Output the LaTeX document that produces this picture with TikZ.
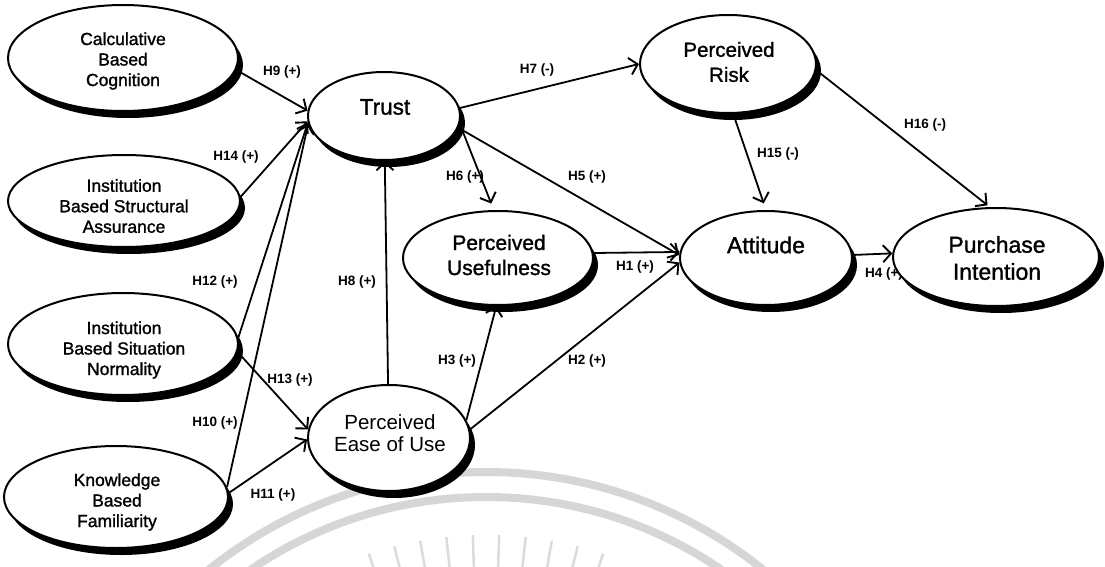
\documentclass[tikz,border=0pt]{standalone}
\usepackage{fontspec}
\setmainfont{Liberation Sans}
\newfontfamily\heavyfont{Liberation Sans}[FakeBold=1.3]
\usetikzlibrary{shapes.geometric,shadows,arrows.meta}
\pgfdeclarelayer{background}
\pgfsetlayers{background,main}

\tikzset{
  construct/.style={ellipse, draw=black, line width=2pt, fill=white, inner sep=0pt,
    drop shadow={shadow xshift=5pt, shadow yshift=-7pt, fill=black, opacity=1}},
  smalltxt/.style={font=\heavyfont\fontsize{17.5}{20.5}\selectfont, align=center, inner sep=0pt},
  midtxt/.style={font=\heavyfont\fontsize{21}{25}\selectfont, align=center, inner sep=0pt},
  largetxt/.style={font=\heavyfont\fontsize{23}{27}\selectfont, align=center, inner sep=0pt},
  link/.style={line width=1.8pt, -{Straight Barb[length=8pt,width=17pt,line width=1.9pt]}},
  hyp/.style={font=\bfseries\fontsize{13.5}{15}\selectfont, inner sep=0pt},
  seal/.style={draw=black!16, line width=8pt},
  ray/.style={draw=black!14, line width=2.5pt}
}

\begin{document}
\begin{tikzpicture}[x=1pt,y=-1pt]
\useasboundingbox (0,0) rectangle (1105,567);

% paper and a faint seal behind the model
\begin{pgfonlayer}{background}
  \fill[white] (0,0) rectangle (1105,567);
  \begin{scope}
    \clip (0,0) rectangle (1105,567);
    \coordinate (sealc) at (486,914);
    \draw[seal] (sealc) circle[radius=442pt];
    \draw[seal] (sealc) circle[radius=417pt];
    \foreach \a in {72,76,...,108}
      \draw[ray] (sealc) ++(\a:345pt) -- ++(\a:34pt);
  \end{scope}
\end{pgfonlayer}

% constructs
\node[construct, minimum width=230pt, minimum height=106pt] (calc)   at (123,58)  {};
\node[construct, minimum width=232pt, minimum height=92pt]  (struct) at (124,201) {};
\node[construct, minimum width=230pt, minimum height=102pt] (norm)   at (123,344) {};
\node[construct, minimum width=224pt, minimum height=102pt] (know)   at (116,497) {};
\node[construct, minimum width=152pt, minimum height=88pt]  (trust)  at (384,116) {};
\node[construct, minimum width=190pt, minimum height=94pt]  (pu)     at (498,258) {};
\node[construct, minimum width=162pt, minimum height=106pt] (peou)   at (389,438) {};
\node[construct, minimum width=176pt, minimum height=98pt]  (risk)   at (728,64)  {};
\node[construct, minimum width=172pt, minimum height=94pt]  (att)    at (766,258) {};
\node[construct, minimum width=206pt, minimum height=98pt]  (pur)    at (996,257) {};

% construct names
\node[smalltxt] (calc-t)   at (123,61)  {Calculative\\Based\\Cognition};
\node[smalltxt] (struct-t) at (124,206) {Institution\\Based Structural\\Assurance};
\node[smalltxt] (norm-t)   at (124,350) {Institution\\Based Situation\\Normality};
\node[smalltxt] (know-t)   at (117,502) {Knowledge\\Based\\Familiarity};
\node[font=\heavyfont\fontsize{22.5}{26}\selectfont, inner sep=0pt] (trust-t) at (385,107) {Trust};
\node[midtxt] (pu-t) at (499,255) {Perceived\\Usefulness};
\node[font=\fontsize{20.5}{21.5}\selectfont, align=center, inner sep=0pt] (peou-t) at (390,433) {Perceived\\Ease of Use};
\node[font=\heavyfont\fontsize{20.5}{25}\selectfont, align=center, inner sep=0pt] (risk-t) at (729,62) {Perceived\\Risk};
\node[largetxt] (att-t) at (766,245) {Attitude};
\node[largetxt] (pur-t) at (997,258) {Purchase\\Intention};

% hypothesised paths
\draw[link] (calc.-6)   -- (trust.176);
\draw[link] (struct.2)  -- (trust.184);
\draw[link] (norm.3)    -- (trust.185);
\draw[link] (norm.-4)   -- (peou.174);
\draw[link] (know.5)    -- (trust.186);
\draw[link] (know.2)    -- (peou.181);
\draw[link] (peou.91)   -- (trust.271);
\draw[link] (trust.6)   -- (risk.180);
\draw[link, shorten >=7pt] (trust.-6) -- (pu.95);
\draw[link] (trust.-9)  -- (att.178);
\draw[link] (pu.3)      -- (att.176);
\draw[link] (peou.13)   -- (pu.268);
\draw[link] (peou.6)    -- (att.183);
\draw[link, shorten >=7pt] (risk.-84) -- (att.90);
\draw[link, shorten >=3pt] (risk.-4)  -- (pur.97);
\draw[link] (att.2)     -- (pur.178);

% hypothesis labels
\node[hyp] (h9)  at (282,72)  {H9 (+)};
\node[hyp] (h14) at (236,157) {H14 (+)};
\node[hyp] (h12) at (215,282) {H12 (+)};
\node[hyp] (h13) at (290,380) {H13 (+)};
\node[hyp] (h10) at (215,423) {H10 (+)};
\node[hyp] (h11) at (273,495) {H11 (+)};
\node[hyp] (h8)  at (357,282) {H8 (+)};
\node[hyp] (h7)  at (537,70)  {H7 (-)};
\node[hyp] (h6)  at (465,177) {H6 (+)};
\node[hyp] (h5)  at (587,177) {H5 (+)};
\node[hyp] (h1)  at (635,267) {H1 (+)};
\node[hyp] (h3)  at (457,361) {H3 (+)};
\node[hyp] (h2)  at (587,361) {H2 (+)};
\node[hyp] (h15) at (778,154) {H15 (-)};
\node[hyp] (h16) at (925,125) {H16 (-)};
\begin{pgfonlayer}{background}
  \node[hyp] (h4) at (884,274) {H4 (+)};
\end{pgfonlayer}
\end{tikzpicture}
\end{document}
